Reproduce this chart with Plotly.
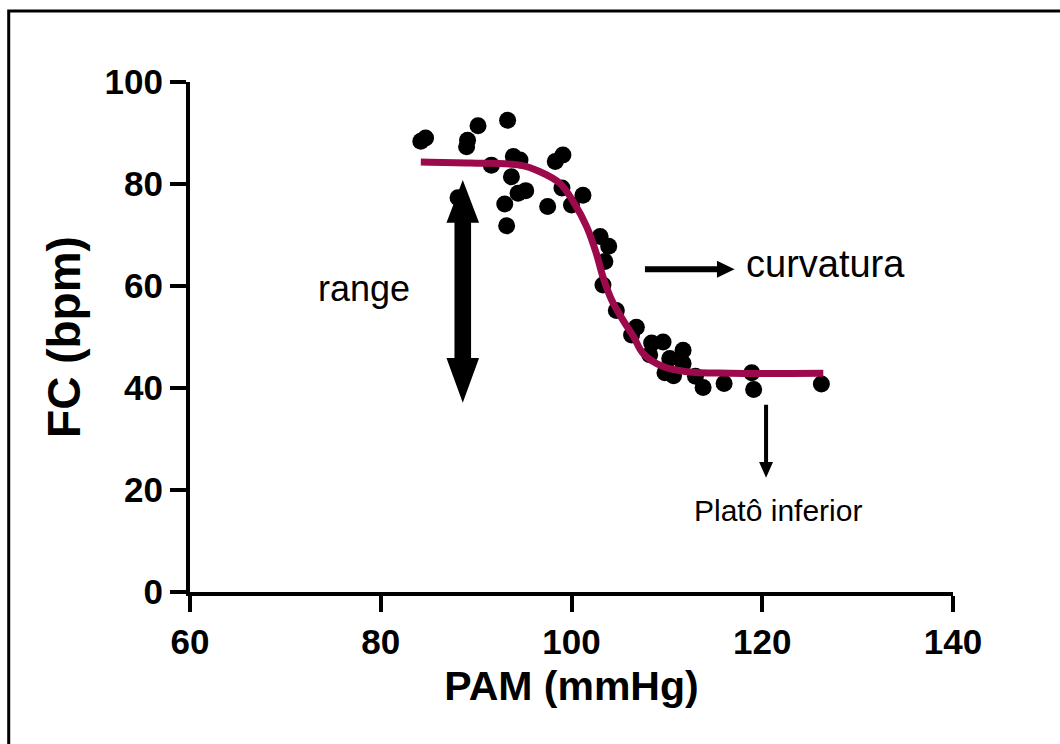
import plotly.graph_objects as go

# ---- data ----
pam = [84.2, 84.7, 89.0, 89.1, 88.1, 90.2, 91.6, 93.3, 93.9, 94.6, 93.7, 94.4, 95.2,
       93.0, 93.2, 97.5, 98.3, 99.1, 99.0, 100.0, 101.2, 103.0, 103.9, 103.5, 103.3,
       104.7, 106.8, 106.3, 108.4, 109.6, 108.2, 110.3, 111.7, 111.7, 109.8, 110.7,
       113.0, 113.8, 116.0, 118.9, 119.1, 126.2]
fc = [88.4, 89.0, 87.3, 88.6, 77.3, 91.4, 83.7, 92.5, 85.4, 84.7, 81.4, 78.2, 78.7,
      76.1, 71.8, 75.6, 84.4, 85.7, 79.2, 75.9, 77.8, 69.7, 67.8, 64.8, 60.2,
      55.2, 51.9, 50.4, 48.8, 49.0, 46.5, 45.8, 47.4, 44.8, 43.0, 42.4,
      42.3, 40.1, 40.9, 43.0, 39.7, 40.8]

fit_pam = [84.2, 89.4, 94.6, 96.7, 98.8, 100.2, 101.6, 102.6, 103.3, 104.2, 105.4,
           106.5, 107.5, 109.6, 112.1, 116.6, 126.4]
fit_fc = [84.3, 84.1, 83.7, 82.4, 80.1, 76.5, 71.6, 66.4, 61.8, 57.3, 53.3,
          50.1, 46.8, 44.2, 43.2, 42.9, 42.9]

x_ticks = [60, 80, 100, 120, 140]
y_ticks = [0, 20, 40, 60, 80, 100]

FONT = "Liberation Sans, Arial, sans-serif"
CURVE = "#9c0a4c"

fig = go.Figure()
fig.add_trace(go.Scatter(x=pam, y=fc, mode="markers",
                         marker=dict(size=17, color="black"), showlegend=False))
fig.add_trace(go.Scatter(x=fit_pam, y=fit_fc, mode="lines", line_shape="spline",
                         line=dict(color=CURVE, width=7), showlegend=False))


def poly(pts):
    return "M " + " L ".join(f"{a},{b}" for a, b in pts) + " Z"


# double arrow "range"
rx, top, tb, bb, bot = 88.6, 80.8, 72.4, 45.9, 37.1
sw, hw = 0.87, 1.71
range_path = poly([(rx, top), (rx + hw, tb), (rx + sw, tb), (rx + sw, bb), (rx + hw, bb),
                   (rx, bot), (rx - hw, bb), (rx - sw, bb), (rx - sw, tb), (rx - hw, tb)])
# arrow to "curvatura"
cy, cx0, cxb, cxt = 63.3, 107.7, 115.25, 117.1
cs, ch = 0.59, 1.67
curv_path = poly([(cx0, cy + cs), (cxb, cy + cs), (cxb, cy + ch), (cxt, cy),
                  (cxb, cy - ch), (cxb, cy - cs), (cx0, cy - cs)])
# arrow to "Platô inferior"
px_, py0, pyb, pyt = 120.4, 36.7, 25.5, 22.4
ps, ph = 0.21, 0.73
plat_path = poly([(px_ - ps, py0), (px_ + ps, py0), (px_ + ps, pyb), (px_ + ph, pyb),
                  (px_, pyt), (px_ - ph, pyb), (px_ - ps, pyb)])

shapes = [dict(type="path", path=p, xref="x", yref="y", fillcolor="black",
               line=dict(width=0)) for p in (range_path, curv_path, plat_path)]
shapes.append(dict(type="rect", xref="paper", yref="paper", x0=-0.2376, x1=1.3,
                   y0=-0.5, y1=1.139, line=dict(color="black", width=3)))

annotations = [
    dict(x=78.2, y=59.6, text="range", showarrow=False, xref="x", yref="y",
         font=dict(family=FONT, size=36, color="black")),
    dict(x=118.1, y=64.4, text="curvatura", showarrow=False, xref="x", yref="y",
         xanchor="left", font=dict(family=FONT, size=38, color="black")),
    dict(x=121.6, y=16.0, text="Platô inferior", showarrow=False, xref="x", yref="y",
         font=dict(family=FONT, size=30, color="black")),
]

axis_common = dict(showline=True, linecolor="black", linewidth=4, ticks="outside",
                   ticklen=16, tickwidth=4, tickcolor="black", showgrid=False,
                   zeroline=False,
                   tickfont=dict(family=FONT, size=35, color="black", weight="bold"))

fig.update_layout(
    width=1060, height=744,
    margin=dict(l=190, r=107, t=82, b=152),
    paper_bgcolor="white", plot_bgcolor="white",
    xaxis=dict(range=[60, 140], tickvals=x_ticks, **axis_common,
               title=dict(text="PAM (mmHg)", standoff=12,
                          font=dict(family=FONT, size=41, color="black", weight="bold"))),
    yaxis=dict(range=[0, 100], tickvals=y_ticks, **axis_common,
               title=dict(text="FC (bpm)", standoff=10,
                          font=dict(family=FONT, size=46, color="black", weight="bold"))),
    shapes=shapes,
    annotations=annotations,
)

fig.write_html("out.html")
